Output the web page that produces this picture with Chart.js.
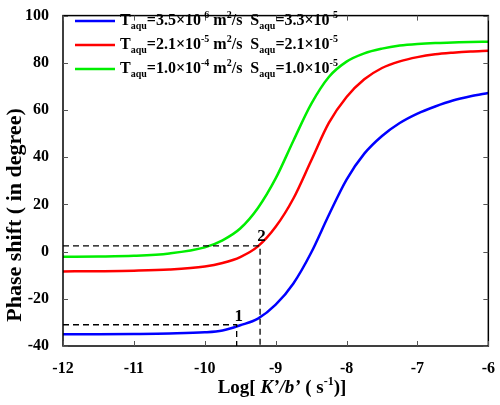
<!DOCTYPE html>
<html>
<head>
<meta charset="utf-8">
<script src="https://cdn.jsdelivr.net/npm/chart.js@4.4.1/dist/chart.umd.min.js"></script>
<style>
  html, body { margin: 0; padding: 0; background: #fff; }
  canvas { display: block; }
</style>
</head>
<body>
<canvas id="phaseChart" width="500" height="405"></canvas>
<script>
(function () {
    /* ── Data ─────────────────────────────────────────── */
    const logK = [-12, -11.5, -11, -10.5, -10, -9.75, -9.5, -9.25, -9, -8.75, -8.5,
                  -8.25, -8, -7.75, -7.5, -7.25, -7, -6.75, -6.5, -6.25, -6];
    const phaseBlue  = [-35, -35, -34.9, -34.7, -34.2, -33.4, -31.2, -28.4, -22.5, -13.5, -0.5,
                        15.5, 30.5, 41.5, 49, 54.5, 58.5, 61.5, 64, 65.8, 67.2];
    const phaseRed   = [-8.4, -8.3, -8.1, -7.6, -6.3, -4.8, -2.3, 2.2, 10.5, 22.5, 38.5,
                        54.5, 65.5, 73, 77.8, 80.6, 82.4, 83.6, 84.3, 84.8, 85.1];
    const phaseGreen = [-2.2, -2.1, -1.8, -0.8, 1.8, 4.8, 9.8, 18.5, 31, 47, 62.5,
                        74, 80.5, 84, 86, 87.3, 88, 88.4, 88.6, 88.8, 88.9];

    // dashed guide lines (x, y pairs)
    const guide1X = [-12, -9.55, -9.55];
    const guide1Y = [-31, -31, -40];
    const guide2X = [-12, -9.22, -9.22];
    const guide2Y = [2.4, 2.4, -40];

    // point labels "1" and "2"
    const markText = ['1', '2'];
    const markX    = [-9.52, -9.2];
    const markY    = [-27.5, 6.3];

    const xTicks = [-12, -11, -10, -9, -8, -7, -6];
    const yTicks = [-40, -20, 0, 20, 40, 60, 80, 100];

    const legendColors = ['#0000ff', '#ff0000', '#00ee00'];
    const legendT = ['3.5×10', '2.1×10', '1.0×10'];
    const legendTexp = ['-6', '-5', '-4'];
    const legendS = ['3.3×10', '2.1×10', '1.0×10'];
    const legendSexp = ['-5', '-5', '-5'];

    const FONT = "'Liberation Serif', 'Times New Roman', serif";

    function pts(xs, ys) {
        return xs.map((x, i) => ({ x: x, y: ys[i] }));
    }

    function curve(label, color, ys) {
        return {
            label: label,
            data: pts(logK, ys),
            borderColor: color,
            borderWidth: 2.5,
            pointRadius: 0,
            fill: false,
            cubicInterpolationMode: 'monotone'
        };
    }

    function guide(xs, ys) {
        return {
            label: 'guide',
            data: pts(xs, ys),
            borderColor: '#000',
            borderWidth: 1.3,
            borderDash: [6, 4],
            pointRadius: 0,
            fill: false,
            tension: 0
        };
    }

    // rich text: parts of [text, kind] where kind is n / sub / sup
    function drawRich(ctx, parts, x, y) {
        parts.forEach(p => {
            let size = 16, dy = 0;
            if (p[1] === 'sub') { size = 10; dy = 5; }
            if (p[1] === 'sup') { size = 10; dy = -6; }
            ctx.font = 'bold ' + size + 'px ' + FONT;
            ctx.fillText(p[0], x, y + dy);
            x += ctx.measureText(p[0]).width;
        });
        return x;
    }

    /* ── Frame, inner ticks, legend, titles ───────────── */
    const decorations = {
        id: 'decorations',
        afterDraw(chart) {
            const ctx = chart.ctx;
            const a = chart.chartArea;
            const xs = chart.scales.x, ys = chart.scales.y;
            ctx.save();

            // box
            ctx.strokeStyle = '#000';
            ctx.lineWidth = 1.5;
            ctx.strokeRect(a.left, a.top, a.right - a.left, a.bottom - a.top);

            // inner ticks on all four sides
            ctx.strokeStyle = '#555';
            ctx.lineWidth = 1;
            ctx.beginPath();
            xTicks.forEach(v => {
                const px = Math.round(xs.getPixelForValue(v)) + 0.5;
                ctx.moveTo(px, a.bottom); ctx.lineTo(px, a.bottom - 5);
                ctx.moveTo(px, a.top); ctx.lineTo(px, a.top + 5);
            });
            yTicks.forEach(v => {
                const py = Math.round(ys.getPixelForValue(v)) + 0.5;
                ctx.moveTo(a.left, py); ctx.lineTo(a.left + 5, py);
                ctx.moveTo(a.right, py); ctx.lineTo(a.right - 5, py);
            });
            ctx.stroke();

            // point labels
            ctx.fillStyle = '#000';
            ctx.font = 'bold 17px ' + FONT;
            ctx.textAlign = 'center';
            ctx.textBaseline = 'middle';
            markText.forEach((t, i) => {
                ctx.fillText(t, xs.getPixelForValue(markX[i]), ys.getPixelForValue(markY[i]));
            });

            // legend
            ctx.textAlign = 'left';
            legendColors.forEach((c, i) => {
                const y = 21 + i * 24;
                ctx.strokeStyle = c;
                ctx.lineWidth = 2.5;
                ctx.beginPath();
                ctx.moveTo(75, y); ctx.lineTo(115, y);
                ctx.stroke();
                ctx.fillStyle = '#000';
                drawRich(ctx, [
                    ['T', 'n'], ['aqu', 'sub'], ['=' + legendT[i], 'n'], [legendTexp[i], 'sup'],
                    [' m', 'n'], ['2', 'sup'], ['/s  S', 'n'], ['aqu', 'sub'],
                    ['=' + legendS[i], 'n'], [legendSexp[i], 'sup']
                ], 120, y);
            });

            // y title
            ctx.save();
            ctx.translate(15, 215);
            ctx.rotate(-Math.PI / 2);
            ctx.font = 'bold 22px ' + FONT;
            ctx.textAlign = 'center';
            ctx.fillText('Phase shift ( in degree)', 0, 0);
            ctx.restore();

            // x title: Log[ K'/b' ( s-1)]
            const parts = [['Log[ ', 'bold 19px '], ['K’/b’', 'italic bold 19px '], [' ( s', 'bold 19px '],
                           ['-1', 'bold 12px '], [')]', 'bold 19px ']];
            let w = 0;
            parts.forEach(p => { ctx.font = p[1] + FONT; w += ctx.measureText(p[0]).width; });
            let x = 282 - w / 2;
            const ty = 388;
            parts.forEach(p => {
                ctx.font = p[1] + FONT;
                ctx.fillText(p[0], x, p[0] === '-1' ? ty - 6 : ty);
                x += ctx.measureText(p[0]).width;
            });

            ctx.restore();
        }
    };

    new Chart(document.getElementById('phaseChart'), {
        type: 'line',
        data: {
            datasets: [
                guide(guide1X, guide1Y),
                guide(guide2X, guide2Y),
                curve('T 3.5e-6', '#0000ff', phaseBlue),
                curve('T 2.1e-5', '#ff0000', phaseRed),
                curve('T 1.0e-4', '#00ee00', phaseGreen)
            ]
        },
        options: {
            responsive: false,
            animation: false,
            layout: { padding: { top: 4, right: 3, left: 0, bottom: 0 } },
            plugins: {
                legend: { display: false },
                tooltip: { enabled: false }
            },
            scales: {
                x: {
                    type: 'linear',
                    min: -12,
                    max: -6,
                    afterFit(scale) { scale.height = 59; },
                    afterBuildTicks(scale) { scale.ticks = xTicks.map(v => ({ value: v })); },
                    grid: { display: false },
                    border: { display: false },
                    ticks: { color: '#000', font: { family: FONT, size: 16, weight: 'bold' }, padding: 5 }
                },
                y: {
                    min: -40,
                    max: 100,
                    afterFit(scale) { scale.width = 63; },
                    afterBuildTicks(scale) { scale.ticks = yTicks.map(v => ({ value: v })); },
                    grid: { display: false },
                    border: { display: false },
                    ticks: { color: '#000', font: { family: FONT, size: 16, weight: 'bold' }, padding: 6 }
                }
            }
        },
        plugins: [decorations]
    });
})();
</script>
</body>
</html>
